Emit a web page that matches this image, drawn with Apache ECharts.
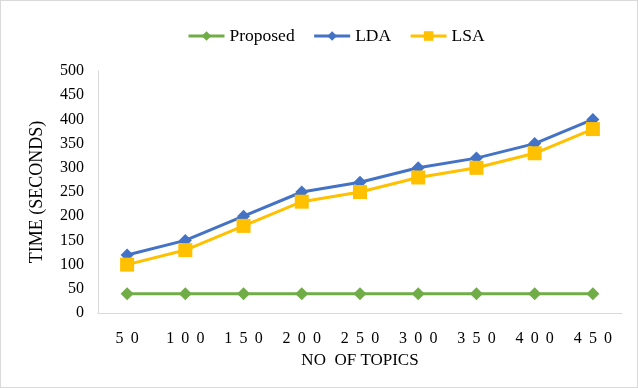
<!DOCTYPE html>
<html>
<head>
<meta charset="utf-8">
<script src="https://cdn.jsdelivr.net/npm/echarts@6/dist/echarts.min.js"></script>
<style>
  html, body { margin: 0; padding: 0; background: #fff; }
  #chart { width: 636px; height: 386px; border: 1px solid #d9d9d9; }
</style>
</head>
<body>
<div id="chart"></div>
<script>
// Number of topics on the x axis
const topics = ['50', '100', '150', '200', '250', '300', '350', '400', '450'];
// Running time in seconds for each method
const proposed = [40, 40, 40, 40, 40, 40, 40, 40, 40];
const lda = [120, 150, 200, 250, 270, 300, 320, 350, 400];
const lsa = [100, 130, 180, 230, 250, 280, 300, 330, 380];

const serif = '"Liberation Serif", "Times New Roman", serif';
const spaced = s => s.split('').join(' \u2009');

const chart = echarts.init(document.getElementById('chart'));
chart.setOption({
  animation: false,
  textStyle: { fontFamily: serif, color: '#000' },
  legend: {
    top: 21,
    left: 181,
    itemWidth: 36,
    itemHeight: 12,
    itemGap: 18,
    lineStyle: { width: 3 },
    textStyle: { fontFamily: serif, fontSize: 17.5, color: '#000' },
    data: ['Proposed', 'LDA', 'LSA']
  },
  grid: { left: 97, right: 15, top: 70, bottom: 74 },
  xAxis: {
    type: 'category',
    data: topics,
    name: 'NO  OF TOPICS',
    nameLocation: 'middle',
    nameGap: 38,
    nameTextStyle: { fontFamily: serif, fontSize: 17, color: '#000' },
    axisLine: { lineStyle: { color: '#d9d9d9', width: 1 } },
    axisTick: { show: false },
    axisLabel: {
      fontFamily: serif, fontSize: 16, color: '#000', margin: 18,
      formatter: v => spaced(v)
    }
  },
  yAxis: {
    type: 'value',
    min: 0,
    max: 500,
    interval: 50,
    name: 'TIME (SECONDS)',
    nameLocation: 'middle',
    nameGap: 52,
    nameTextStyle: { fontFamily: serif, fontSize: 18, color: '#000' },
    axisLine: { show: true, lineStyle: { color: '#d9d9d9', width: 1 } },
    axisTick: { show: false },
    splitLine: { show: false },
    axisLabel: { fontFamily: serif, fontSize: 16, color: '#000', margin: 14 }
  },
  series: [
    {
      name: 'Proposed', type: 'line', data: proposed,
      symbol: 'diamond', symbolSize: 13,
      lineStyle: { color: '#70AD47', width: 3 },
      itemStyle: { color: '#70AD47' }
    },
    {
      name: 'LDA', type: 'line', data: lda,
      symbol: 'diamond', symbolSize: 13,
      lineStyle: { color: '#4472C4', width: 3 },
      itemStyle: { color: '#4472C4' }
    },
    {
      name: 'LSA', type: 'line', data: lsa,
      symbol: 'rect', symbolSize: 14,
      lineStyle: { color: '#FFC000', width: 3 },
      itemStyle: { color: '#FFC000' }
    }
  ]
});
</script>
</body>
</html>
